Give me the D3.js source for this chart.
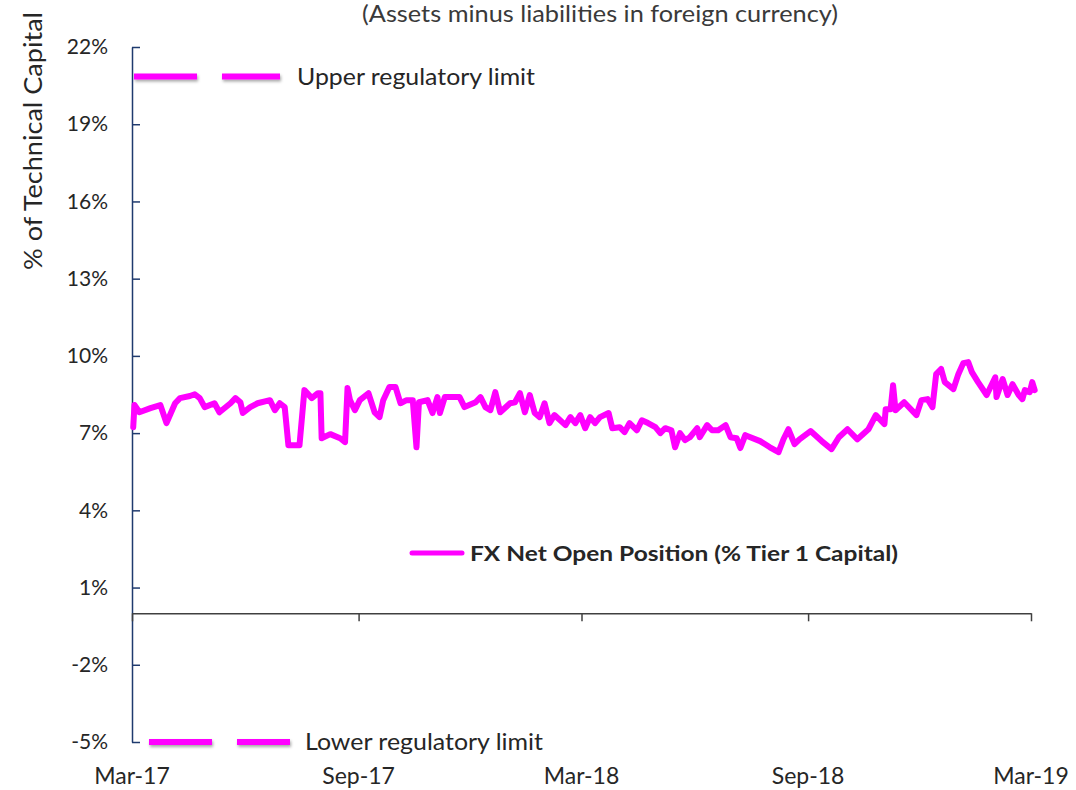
<!DOCTYPE html>
<html>
<head>
<meta charset="utf-8">
<script src="https://cdn.jsdelivr.net/npm/d3@7"></script>
<style>
  body { margin: 0; background: #fff; }
  svg { display: block; }
  text { font-family: Lato, "Open Sans", sans-serif; fill: #262626; }
</style>
</head>
<body>
<svg width="1076" height="790"></svg>
<script>
// FX net open position, % of tier 1 capital
const fxDates = [
  "2017-03-02","2017-03-03","2017-03-07","2017-03-16","2017-03-24","2017-03-29","2017-04-05","2017-04-09",
  "2017-04-17","2017-04-21","2017-04-25","2017-04-29","2017-05-07","2017-05-11","2017-05-20","2017-05-24",
  "2017-05-28","2017-05-30","2017-06-05","2017-06-11","2017-06-21","2017-06-25","2017-06-29","2017-07-03",
  "2017-07-06","2017-07-15","2017-07-19","2017-07-25","2017-07-30","2017-08-01","2017-08-02","2017-08-09",
  "2017-08-17","2017-08-21","2017-08-23","2017-08-25","2017-08-29","2017-09-02","2017-09-09","2017-09-14",
  "2017-09-18","2017-09-21","2017-09-26","2017-10-01","2017-10-05","2017-10-10","2017-10-15","2017-10-18",
  "2017-10-20","2017-10-27","2017-10-31","2017-11-04","2017-11-06","2017-11-10","2017-11-22","2017-11-26",
  "2017-12-05","2017-12-09","2017-12-13","2017-12-17","2017-12-21","2017-12-25","2018-01-02","2018-01-06",
  "2018-01-10","2018-01-14","2018-01-18","2018-01-22","2018-01-26","2018-01-30","2018-02-03","2018-02-07",
  "2018-02-16","2018-02-20","2018-02-24","2018-02-28","2018-03-04","2018-03-08","2018-03-12","2018-03-16",
  "2018-03-23","2018-03-26","2018-04-01","2018-04-05","2018-04-09","2018-04-15","2018-04-19","2018-04-24",
  "2018-04-30","2018-05-04","2018-05-08","2018-05-13","2018-05-16","2018-05-20","2018-05-24","2018-05-28",
  "2018-06-03","2018-06-05","2018-06-11","2018-06-15","2018-06-20","2018-06-26","2018-06-30","2018-07-05",
  "2018-07-08","2018-07-12","2018-07-24","2018-08-01","2018-08-08","2018-08-12","2018-08-16","2018-08-21",
  "2018-08-25","2018-09-03","2018-09-12","2018-09-20","2018-09-26","2018-10-03","2018-10-11","2018-10-20",
  "2018-10-26","2018-11-02","2018-11-03","2018-11-07","2018-11-09","2018-11-11","2018-11-18","2018-11-28",
  "2018-12-02","2018-12-07","2018-12-11","2018-12-14","2018-12-18","2018-12-21","2018-12-28","2019-01-01",
  "2019-01-05","2019-01-09","2019-01-12","2019-01-17","2019-01-24","2019-01-31","2019-02-01","2019-02-06",
  "2019-02-10","2019-02-14","2019-02-19","2019-02-22","2019-02-24","2019-02-28","2019-03-02","2019-03-04"
];
const fxValues = [
  7.23,8.09,7.81,7.97,8.09,7.39,8.16,8.36,
  8.44,8.51,8.36,8.01,8.16,7.81,8.16,8.36,
  8.20,7.78,8.01,8.16,8.28,7.89,8.16,8.01,
  6.53,6.53,8.67,8.36,8.55,8.55,6.80,6.96,
  6.80,6.65,8.75,8.28,7.89,8.28,8.55,7.81,
  7.62,8.28,8.79,8.79,8.16,8.28,8.28,6.45,
  8.20,8.28,7.78,8.40,7.78,8.40,8.40,8.01,
  8.20,8.40,8.01,7.89,8.59,7.81,8.16,8.20,
  8.55,7.81,8.48,7.78,7.62,8.16,7.39,7.70,
  7.31,7.62,7.39,7.70,7.19,7.62,7.39,7.62,
  7.78,7.19,7.23,7.04,7.39,7.11,7.50,7.39,
  7.23,7.00,7.19,7.11,6.45,7.00,6.73,6.84,
  7.19,6.84,7.31,7.11,7.11,7.31,6.84,6.80,
  6.42,6.92,6.69,6.45,6.26,6.76,7.15,6.57,
  6.76,7.08,6.69,6.38,6.84,7.15,6.76,7.15,
  7.70,7.35,7.93,7.93,8.86,7.89,8.20,7.70,
  8.28,8.32,8.01,9.29,9.49,8.98,8.71,9.29,
  9.72,9.76,9.37,8.98,8.48,9.17,8.40,9.10,
  8.48,8.90,8.48,8.32,8.67,8.59,8.98,8.67
];

const yTicks = [-5, -2, 1, 4, 7, 10, 13, 16, 19, 22];
const xTickDates = ["2017-03-01", "2017-09-01", "2018-03-01", "2018-09-01", "2019-03-01"];
const upperLimit = 20.85;   // legend key position for the limits
const lowerLimit = -5;

const parse = d3.timeParse("%Y-%m-%d");
const data = fxDates.map((d, i) => ({date: parse(d), value: fxValues[i]}));

const svg = d3.select("svg");

const x = d3.scaleTime()
  .domain([parse("2017-03-01"), parse("2019-03-01")])
  .range([132, 1031]);
const y = d3.scaleLinear()
  .domain([-5, 22])
  .range([742, 47]);

// drop shadow for the dashed limit keys (user space, a line has no height)
const defs = svg.append("defs");
const f = defs.append("filter").attr("id", "shadow")
  .attr("filterUnits", "userSpaceOnUse")
  .attr("x", 0).attr("y", 0).attr("width", 1076).attr("height", 790);
f.append("feDropShadow").attr("dx", 1).attr("dy", 2).attr("stdDeviation", 1.5)
  .attr("flood-color", "#000").attr("flood-opacity", 0.35);

// subtitle
svg.append("text")
  .attr("x", 600).attr("y", 22)
  .attr("text-anchor", "middle")
  .attr("textLength", 476)
  .attr("lengthAdjust", "spacingAndGlyphs")
  .style("font-size", "23px")
  .style("fill", "#3a3a3a")
  .text("(Assets minus liabilities in foreign currency)");

// y axis title
svg.append("text")
  .attr("transform", "translate(42,141) rotate(-90)")
  .attr("text-anchor", "middle")
  .attr("textLength", 258)
  .attr("lengthAdjust", "spacingAndGlyphs")
  .style("font-size", "25px")
  .text("% of Technical Capital");

// y axis
const yAxis = svg.append("g")
  .attr("transform", "translate(132,0)")
  .call(d3.axisLeft(y)
    .tickValues(yTicks)
    .tickSizeInner(-8)
    .tickSizeOuter(0)
    .tickPadding(24)
    .tickFormat(d => d + "%"));
yAxis.select(".domain").attr("stroke", "#1f3a6e").attr("stroke-width", 1.5);
yAxis.selectAll(".tick line").attr("stroke", "#1f3a6e").attr("stroke-width", 1.5);
yAxis.selectAll(".tick text")
  .style("font-family", "Lato, 'Open Sans', sans-serif")
  .style("font-size", "21px")
  .attr("fill", "#262626");

// x axis on the zero line
const xAxis = svg.append("g")
  .attr("transform", "translate(0," + y(0) + ")")
  .call(d3.axisBottom(x)
    .tickValues(xTickDates.map(parse))
    .tickSizeInner(8)
    .tickSizeOuter(0)
    .tickFormat(""));
xAxis.select(".domain").attr("stroke", "#404040").attr("stroke-width", 1.5);
xAxis.selectAll(".tick line").attr("stroke", "#404040").attr("stroke-width", 1.5);

// x labels sit below the plot
svg.append("g").selectAll("text")
  .data(xTickDates.map(parse))
  .enter().append("text")
  .attr("x", d => x(d))
  .attr("y", 784)
  .attr("text-anchor", "middle")
  .style("font-size", "23px")
  .text(d3.timeFormat("%b-%y"));

// the series
const line = d3.line()
  .x(d => x(d.date))
  .y(d => y(d.value));

svg.append("path")
  .datum(data)
  .attr("d", line)
  .attr("fill", "none")
  .attr("stroke", "#ff00ff")
  .attr("stroke-width", 6)
  .attr("stroke-linejoin", "round")
  .attr("stroke-linecap", "round");

// legend keys
function dashKey(x0, x1, yv, label, tx) {
  svg.append("line")
    .attr("x1", x0).attr("x2", x1)
    .attr("y1", y(yv)).attr("y2", y(yv))
    .attr("stroke", "#ff00ff")
    .attr("stroke-width", 6)
    .attr("stroke-dasharray", "63,25")
    .attr("filter", "url(#shadow)");
  svg.append("text")
    .attr("x", tx).attr("y", y(yv) + 8)
    .attr("textLength", 238)
    .attr("lengthAdjust", "spacingAndGlyphs")
    .style("font-size", "24px")
    .text(label);
}
dashKey(134, 280, upperLimit, "Upper regulatory limit", 297);
dashKey(149, 290, lowerLimit, "Lower regulatory limit", 305);

svg.append("line")
  .attr("x1", 412).attr("x2", 462)
  .attr("y1", 553).attr("y2", 553)
  .attr("stroke", "#ff00ff")
  .attr("stroke-width", 5)
  .attr("stroke-linecap", "round");
svg.append("text")
  .attr("x", 470).attr("y", 561)
  .style("font-size", "21px")
  .style("font-weight", "bold")
  .attr("textLength", 428)
  .attr("lengthAdjust", "spacingAndGlyphs")
  .text("FX Net Open Position (% Tier 1 Capital)");
</script>
</body>
</html>
